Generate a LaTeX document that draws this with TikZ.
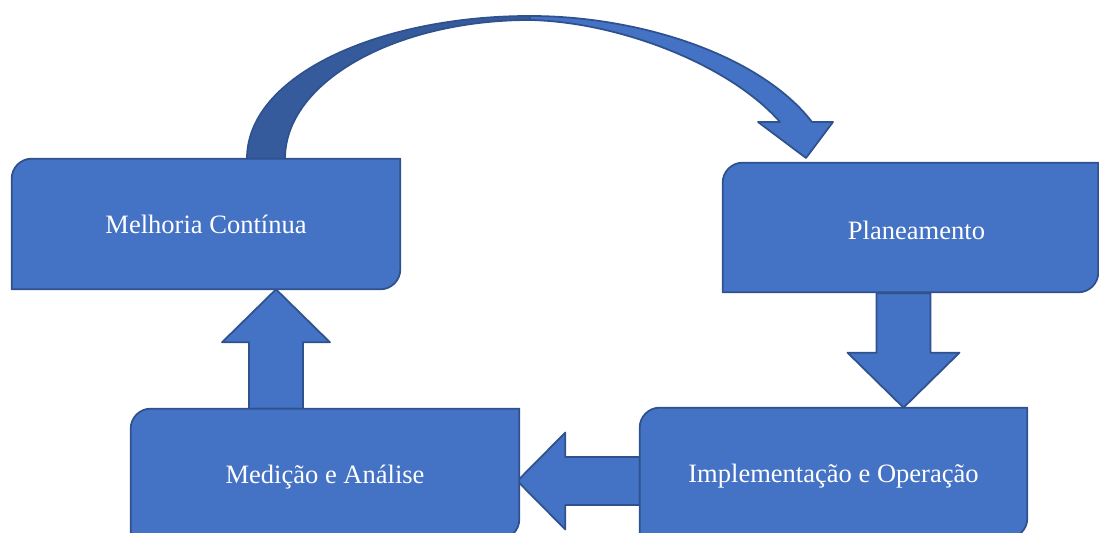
\documentclass[tikz,border=0pt]{standalone}
\usepackage{fontspec}
\setmainfont{Liberation Serif}
\usetikzlibrary{calc}

\definecolor{boxfill}{HTML}{4472C4}
\definecolor{boxedge}{HTML}{2F528F}
\definecolor{boxshade}{HTML}{365B9D}

\pgfdeclarelayer{bg}
\pgfsetlayers{bg,main}

\tikzset{
  stage/.style={draw=none, inner sep=0pt, minimum height=2.6cm,
    text height=10.5pt, text depth=0pt,
    text=white, font=\fontsize{15.1}{18}\selectfont},
  stageshape/.style={fill=boxfill, draw=boxedge, line width=1pt, line join=round},
  shadeshape/.style={fill=boxshade, draw=boxedge, line width=1pt, line join=round},
}

% box with rounded top-left and bottom-right corners
\newcommand\stagebox[1]{%
  \path[stageshape] (#1.south west) -- ([yshift=-0.4cm]#1.north west)
    arc[start angle=180, end angle=90, radius=0.4cm] -- (#1.north east)
    -- ([yshift=0.4cm]#1.south east)
    arc[start angle=0, end angle=-90, radius=0.4cm] -- cycle;}

% block arrow: #1 start, #2 tip, #3 half shaft width, #4 half head width, #5 head length
\newcommand\blockarrow[5]{%
  \coordinate (bh) at ($(#2)!#5!(#1)$);
  \path[stageshape] ($(#1)!#3!90:(#2)$) -- ($(bh)!#3!90:(#2)$)
    -- ($(bh)!#4!90:(#2)$) -- (#2) -- ($(bh)!#4!-90:(#2)$)
    -- ($(bh)!#3!-90:(#2)$) -- ($(#1)!#3!-90:(#2)$) -- cycle;}

\begin{document}
\begin{tikzpicture}[x=0.02cm, y=0.02cm]
  \useasboundingbox (0,0) rectangle (1099,533);

  % stages
  \node[stage, minimum width=7.76cm] (mc) at (206,309) {Melhoria Contínua};
  \node[stage, minimum width=7.5cm, minimum height=2.58cm, text height=13.9pt]
    (pl) at (910.5,305.5) {\hspace*{0.24cm}Planeamento};
  \node[stage, minimum width=7.76cm] (ma) at (325,59) {Medição e Análise};
  \node[stage, minimum width=7.74cm] (io) at (833.5,60) {Implementação e Operação};

  \begin{pgfonlayer}{bg}
    % curved arrow from the improvement stage back to planning
    \coordinate (co) at (247,0 |- mc.north);
    \coordinate (ci) at (285,0 |- mc.north);
    \coordinate (ct) at (806,375);
    \path[shadeshape] (co) .. controls (247,458) and (380,517) .. (530,517)
      -- (530,513) .. controls (395,513) and (285,451) .. (ci) -- cycle;
    \path[stageshape] (530,517) .. controls (640,517) and (760,478) .. (812,411)
      -- (833,411) -- (ct) -- (758,411) -- (780,411)
      .. controls (730,468) and (620,511) .. (530,513) -- cycle;

    % straight block arrows
    \coordinate (dx) at (903.5,0);
    \coordinate (ux) at (276,0);
    \coordinate (ly) at (0,52);
    \blockarrow{$(dx |- pl.south)+(0,-1)$}{dx |- io.north}{0.54cm}{1.12cm}{1.1cm}
    \blockarrow{io.west |- ly}{$(ma.east |- ly)+(-2,0)$}{0.48cm}{0.97cm}{0.96cm}
    \blockarrow{ux |- ma.north}{ux |- mc.south}{0.54cm}{1.08cm}{1.06cm}

    \stagebox{mc}
    \stagebox{pl}
    \stagebox{ma}
    \stagebox{io}
  \end{pgfonlayer}
\end{tikzpicture}
\end{document}
